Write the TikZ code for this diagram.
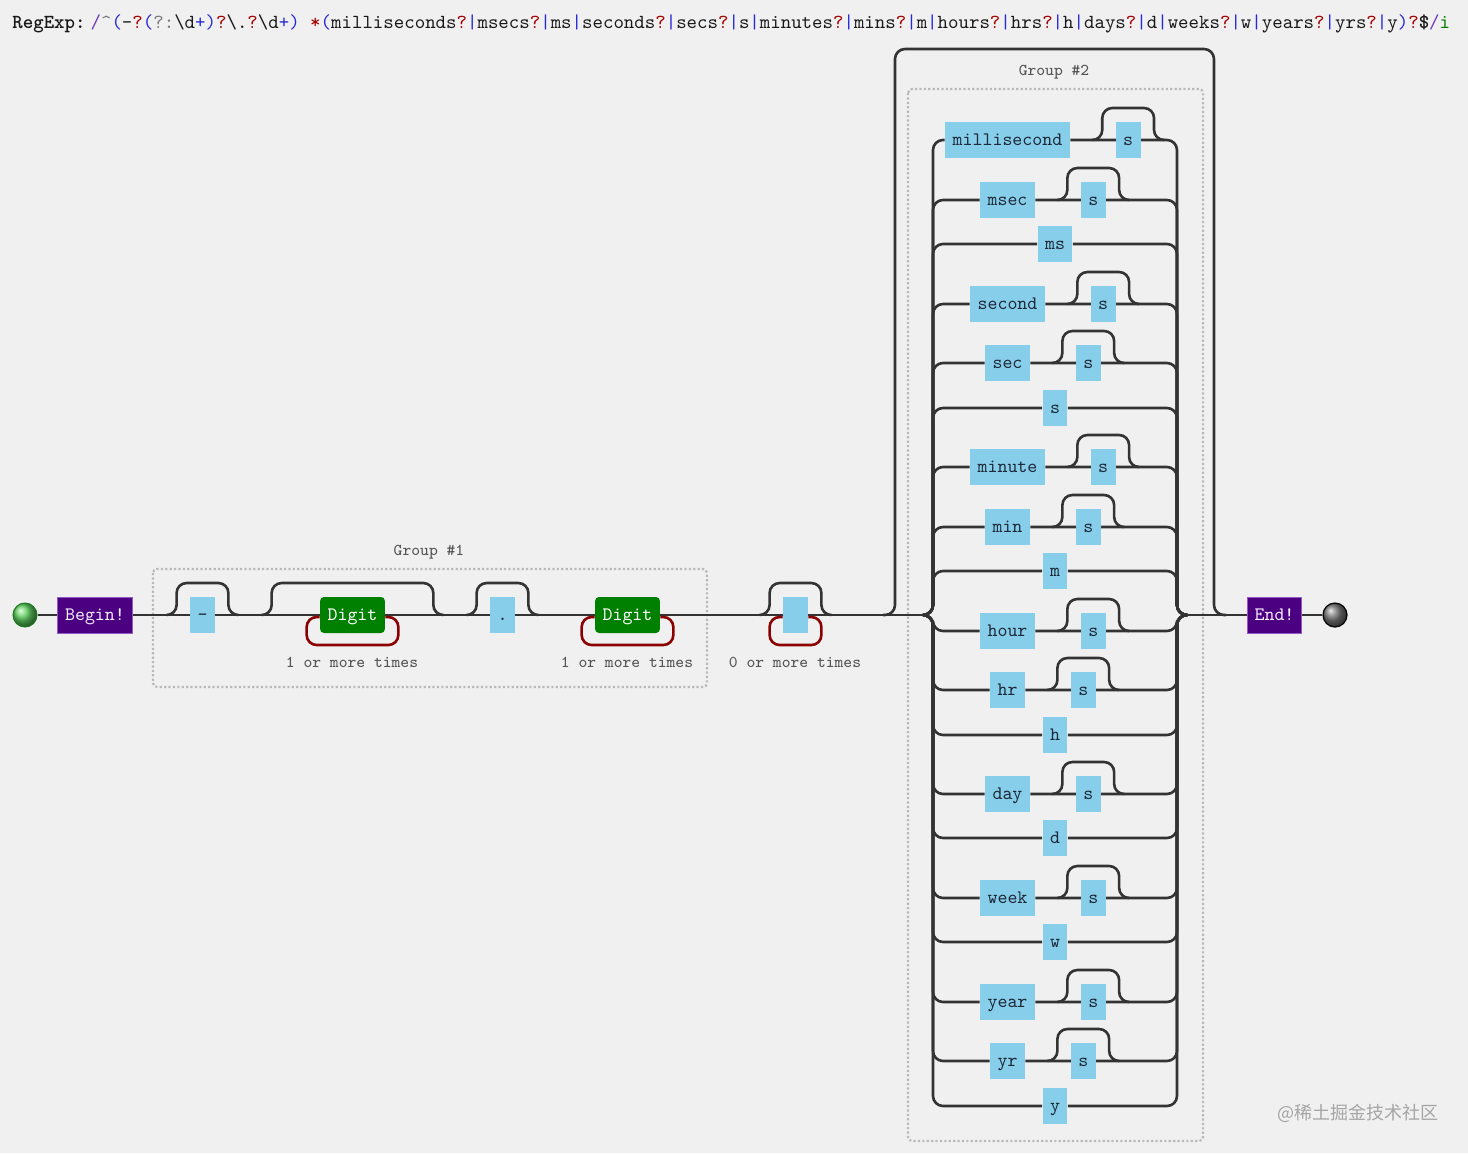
\documentclass[tikz,border=0pt]{standalone}
\usepackage{fontspec}
\newfontfamily\cjkwm{Noto Sans CJK SC}
\usetikzlibrary{calc,positioning}
\pgfdeclarelayer{bgfill}
\pgfdeclarelayer{rails}
\pgfsetlayers{bgfill,rails,main}

\definecolor{bgc}{RGB}{240,240,240}
\definecolor{railc}{RGB}{51,51,51}
\definecolor{litc}{RGB}{135,206,235}
\definecolor{littxt}{RGB}{30,40,55}
\definecolor{digc}{RGB}{0,128,0}
\definecolor{termc}{RGB}{75,0,130}
\definecolor{termb}{RGB}{150,90,200}
\definecolor{termt}{RGB}{245,238,250}
\definecolor{loopc}{RGB}{139,0,0}
\definecolor{grpc}{RGB}{185,185,185}
\definecolor{lblc}{RGB}{85,85,85}
\definecolor{rxpc}{RGB}{40,40,215}
\definecolor{rxqc}{RGB}{165,0,0}
\definecolor{rxgc}{RGB}{125,125,125}
\definecolor{rxsc}{RGB}{110,60,190}
\definecolor{rxic}{RGB}{0,128,0}
\definecolor{rxtc}{RGB}{25,25,25}
\definecolor{wmc}{RGB}{165,165,165}

\newcommand\rxP[1]{\textcolor{rxpc}{#1}}
\newcommand\rxQ[1]{\textcolor{rxqc}{#1}}
\newcommand\rxG[1]{\textcolor{rxgc}{#1}}

\begin{document}
\begin{tikzpicture}[x=0.5pt,y=-0.5pt,
  rail/.style={draw=railc,line width=1.3pt,rounded corners=5pt},
  loopline/.style={draw=loopc,line width=1.3pt,rounded corners=5pt},
  grpbox/.style={draw=grpc,line width=1.1pt,dash pattern=on 1.1pt off 1.1pt,rounded corners=2pt},
  boxfont/.style={font=\ttfamily\fontsize{9.5}{11}\selectfont},
  lit/.style={boxfont,fill=litc,text=littxt,minimum height=18pt,inner xsep=3.75pt,inner ysep=0pt,text height=7pt,text depth=1.6pt},
  digit/.style={boxfont,fill=digc,text=white,rounded corners=2pt,minimum height=18pt,inner xsep=3.75pt,inner ysep=0pt,text height=7pt,text depth=1.6pt},
  term/.style={boxfont,fill=termc,draw=termb,line width=0.5pt,text=termt,minimum height=18pt,inner xsep=3.75pt,inner ysep=0pt,text height=7pt,text depth=1.6pt},
  lbl/.style={text=lblc,font=\ttfamily\fontsize{8.3}{10}\selectfont},
]
\useasboundingbox (0,0) rectangle (1468,1153);
\begin{pgfonlayer}{bgfill}
\fill[bgc] (0,0) rectangle (1468,1153);
\end{pgfonlayer}

% title
\node[anchor=west,font=\ttfamily\fontsize{9.96}{12}\selectfont,text=rxtc,inner sep=0] (title) at (12,24)
{{\bfseries RegExp:}\hspace{2.5pt}\textcolor{rxsc}{/}\rxG{\textasciicircum}\rxP{(}-\rxQ{?}\rxP{(}\rxG{?:}\textbackslash d\rxP{+}\rxP{)}\rxQ{?}\textbackslash .\rxQ{?}\textbackslash d\rxP{+}\rxP{)} \rxQ{*}\rxP{(}milliseconds\rxQ{?}\rxP{|}msecs\rxQ{?}\rxP{|}ms\rxP{|}seconds\rxQ{?}\rxP{|}secs\rxQ{?}\rxP{|}s\rxP{|}minutes\rxQ{?}\rxP{|}mins\rxQ{?}\rxP{|}m\rxP{|}hours\rxQ{?}\rxP{|}hrs\rxQ{?}\rxP{|}h\rxP{|}days\rxQ{?}\rxP{|}d\rxP{|}weeks\rxQ{?}\rxP{|}w\rxP{|}years\rxQ{?}\rxP{|}yrs\rxQ{?}\rxP{|}y\rxP{)}\rxQ{?}{\bfseries\$}\textcolor{rxsc}{/}\textcolor{rxic}{i}};

% terminals
\node[circle,minimum size=12pt,inner sep=0pt,ball color={rgb,255:red,95;green,210;blue,95},draw={rgb,255:red,30;green,120;blue,30},line width=0.5pt] (startc) at (25,615) {};
\node[term] (begin) at (95,615) {Begin!};
\node[term] (end) at (1274.5,615) {End!};
\node[circle,minimum size=12pt,inner sep=0pt,ball color={rgb,255:red,120;green,120;blue,120},draw=black,line width=0.6pt] (endc) at (1335,615) {};

% group 1 items
\node[lit] (dash) at (202.5,615) {-};
\node[digit] (dig1) at (352.5,615) {Digit};
\node[lit] (dot) at (502.5,615) {.};
\node[digit] (dig2) at (627.5,615) {Digit};
\node[lit,minimum width=12.5pt] (spc) at (795.5,615) {};

\node[lbl] (rep1) at (352,662) {1 or more times};
\node[lbl] (rep2) at (627,662) {1 or more times};
\node[lbl] (rep3) at (795,662) {0 or more times};
\node[lbl] (g1lbl) at (429,552) {Group \#1};
\node[lbl] (g2lbl) at (1054,72) {Group \#2};

\coordinate (split) at (923,615);
\coordinate (merge) at (1187,615);
\coordinate (osl) at (883,615);
\coordinate (osr) at (1226,615);

\begin{pgfonlayer}{rails}
% group boxes
\draw[grpbox] (153,569) rectangle (707,687);
\draw[grpbox] (908,89) rectangle (1203,1141);
% main line
\draw[rail] (startc) -- (split);
\draw[rail] (merge) -- (endc);
% optional skips on main line
\draw[rail] ($(dash.west)+(-23,0)$) -- ++(10,0) -- ++(0,-32) -- ($(dash.east)+(13,-32)$) -- ++(0,32) -- ++(10,0);
\draw[rail] ($(dig1.west)+(-58,0)$) -- ++(10,0) -- ++(0,-32) -- ($(dig1.east)+(48,-32)$) -- ++(0,32) -- ++(10,0);
\draw[rail] ($(dot.west)+(-23,0)$) -- ++(10,0) -- ++(0,-32) -- ($(dot.east)+(13,-32)$) -- ++(0,32) -- ++(10,0);
\draw[rail] ($(spc.west)+(-23,0)$) -- ++(10,0) -- ++(0,-32) -- ($(spc.east)+(13,-32)$) -- ++(0,32) -- ++(10,0);
% outer skip around group 2
\draw[rail] (osl) -- (895,615) -- (895,49) -- (1214,49) -- (1214,615) -- (osr);
% repeat loops
\draw[loopline] ($(dig1.east)+(0,2)$) -- ++(13,0) -- ++(0,28) -- ($(dig1.west)+(-13,30)$) -- ++(0,-28) -- ++(13,0);
\draw[loopline] ($(dig2.east)+(0,2)$) -- ++(13,0) -- ++(0,28) -- ($(dig2.west)+(-13,30)$) -- ++(0,-28) -- ++(13,0);
\draw[loopline] ($(spc.east)+(0,2)$) -- ++(13,0) -- ++(0,28) -- ($(spc.west)+(-13,30)$) -- ++(0,-28) -- ++(13,0);
\end{pgfonlayer}

% alternation branches
\foreach \i/\by/\bw/\bs in {1/140/millisecond/1,2/200/msec/1,3/244/ms/0,4/304/second/1,5/363/sec/1,6/408/s/0,7/467/minute/1,8/527/min/1,9/571/m/0,10/631/hour/1,11/690/hr/1,12/735/h/0,13/794/day/1,14/838/d/0,15/898/week/1,16/942/w/0,17/1002/year/1,18/1061/yr/1,19/1106/y/0}{
  \ifnum\bs=1
    \node[lit] (w\i) at (1007.5,\by) {\bw};
    \node[lit,right=22.5pt of w\i] (s\i) {s};
    \begin{pgfonlayer}{rails}
    \draw[rail] ($(s\i.west)+(-23,0)$) -- ++(10,0) -- ++(0,-32) -- ($(s\i.east)+(13,-32)$) -- ++(0,32) -- ++(10,0);
    \end{pgfonlayer}
  \else
    \node[lit] (w\i) at (1055,\by) {\bw};
  \fi
  \begin{pgfonlayer}{rails}
  \draw[rail] (split) -- ++(10,0) |- (w\i.west);
  \draw[rail] (w\i.east) -| ($(merge)+(-10,0)$) -- (merge);
  \end{pgfonlayer}
}

% watermark
\node[font=\cjkwm\fontsize{9}{11}\selectfont,text=wmc] (wm) at (1358,1113) {@稀土掘金技术社区};
\end{tikzpicture}
\end{document}
